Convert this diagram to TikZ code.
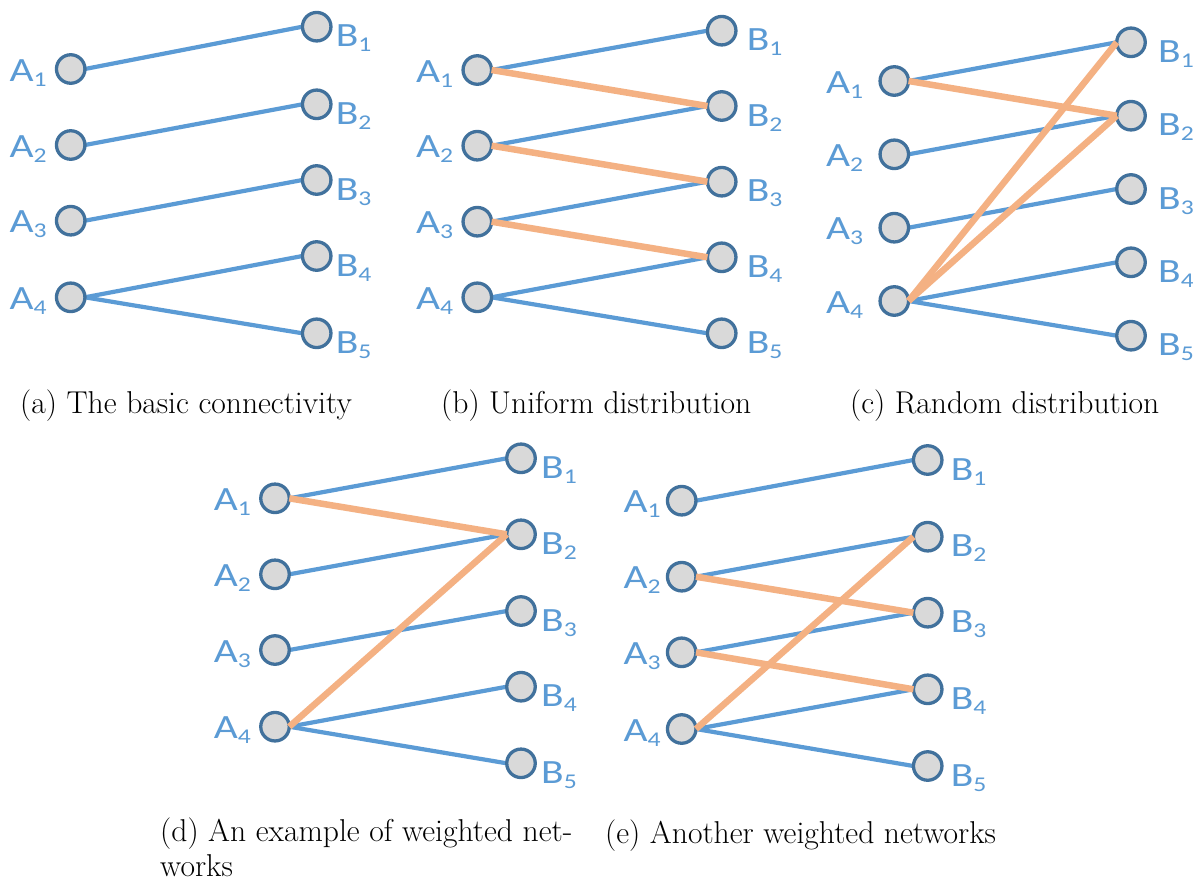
\documentclass[tikz,border=0pt]{standalone}
\usepackage{fontspec}
\newfontfamily\lblfont[FakeStretch=1.22]{Carlito}
\usetikzlibrary{calc}

\definecolor{edgeblue}{RGB}{91,155,213}
\definecolor{rimblue}{RGB}{65,113,156}
\definecolor{nodegray}{RGB}{217,217,217}
\definecolor{weightorange}{RGB}{244,177,131}

\pgfdeclarelayer{background}
\pgfsetlayers{background,main}

% lowered index digit for the vertex names
\newcommand\idx[1]{\raisebox{-5pt}{\fontsize{21}{21}\selectfont #1}}

\tikzset{
  vertex/.style={circle, draw=rimblue, fill=nodegray, line width=3.3pt,
    minimum size=28.5pt, inner sep=0pt, outer sep=0pt},
  vlabel/.style={text=edgeblue, font=\lblfont\fontsize{34}{34}\selectfont, inner sep=0pt},
  link/.style={draw=edgeblue, line width=4.2pt},
  weighted/.style={draw=weightorange, line width=6.5pt},
  caption/.style={font=\fontsize{31.6}{35}\selectfont, inner sep=0pt},
}

% one bipartite panel: prefix, A column x, A rows, A label gap, B column x, B rows, B label gap
\newcommand\drawpanel[7]{%
  \foreach \yy [count=\i] in {#3} {
    \node[vertex] (#1a\i) at (#2,\yy) {};
    \node[vlabel, anchor=base east] (#1la\i) at ($(#1a\i)+(-#4,12)$) {A\idx{\i}};
  }
  \foreach \yy [count=\i] in {#6} {
    \node[vertex] (#1b\i) at (#5,\yy) {};
    \node[vlabel, anchor=base west] (#1lb\i) at ($(#1b\i)+(#7,20)$) {B\idx{\i}};
  }
}
% plain links, kept behind the vertices
\newcommand\links[2]{%
  \begin{pgfonlayer}{background}
    \foreach \p/\q in {#2} \draw[link] (#1a\p.east) -- (#1b\q.west);
  \end{pgfonlayer}}
% weighted links, drawn over the vertices
\newcommand\heavy[2]{%
  \foreach \p/\q in {#2} \draw[weighted] (#1a\p.east) -- (#1b\q.west);}

\begin{document}
\begin{tikzpicture}[x=1pt, y=-1pt]
  \useasboundingbox (0,0) rectangle (1193,881);
  \begin{pgfonlayer}{background}
    \fill[white] (0,0) rectangle (1193,881);
  \end{pgfonlayer}

  % (a)
  \drawpanel{pa}{70.7}{69,145,220.7,297.3}{24}{316.7}{26.7,104.3,180,256,333.3}{19}
  \links{pa}{1/1,2/2,3/3,4/4,4/5}

  % (b)
  \drawpanel{pb}{477.3}{70,145.7,221.7,297.3}{24}{721.7}{30.7,106,181.7,257.3,333.3}{25}
  \links{pb}{1/1,2/2,3/3,4/4,4/5}
  \heavy{pb}{1/2,2/3,3/4}

  % (c)
  \drawpanel{pc}{894.3}{81,154.3,227.7,301}{31}{1131}{42.3,115.7,189,262.3,335.7}{27}
  \links{pc}{1/1,2/2,3/3,4/4,4/5}
  \heavy{pc}{1/2,4/1,4/2}

  % (d)
  \drawpanel{pd}{275}{498.3,574.3,650,726.7}{24}{521}{458.3,534.3,611,686.7,763.3}{20}
  \links{pd}{1/1,2/2,3/3,4/4,4/5}
  \heavy{pd}{1/2,4/2}

  % (e)
  \drawpanel{pe}{681.7}{500.7,576.7,652.3,729}{21}{927.7}{460,536.7,612.7,689.3,766}{23}
  \links{pe}{1/1,2/2,3/3,4/4,4/5}
  \heavy{pe}{2/3,3/4,4/2}

  % sub-captions
  \node[caption, anchor=base west] (capa) at (20,413) {(a) The basic connectivity};
  \node[caption, anchor=base west] (capb) at (441,413) {(b) Uniform distribution};
  \node[caption, anchor=base west] (capc) at (850,413) {(c) Random distribution};
  % two-line caption: its base anchor sits on the last line
  \node[caption, anchor=base west, align=left, text depth=0pt] (capd) at (160,876)
    {(d) An example of weighted net-\\works};
  \node[caption, anchor=base west] (cape) at (605,843) {(e) Another weighted networks};
\end{tikzpicture}
\end{document}
